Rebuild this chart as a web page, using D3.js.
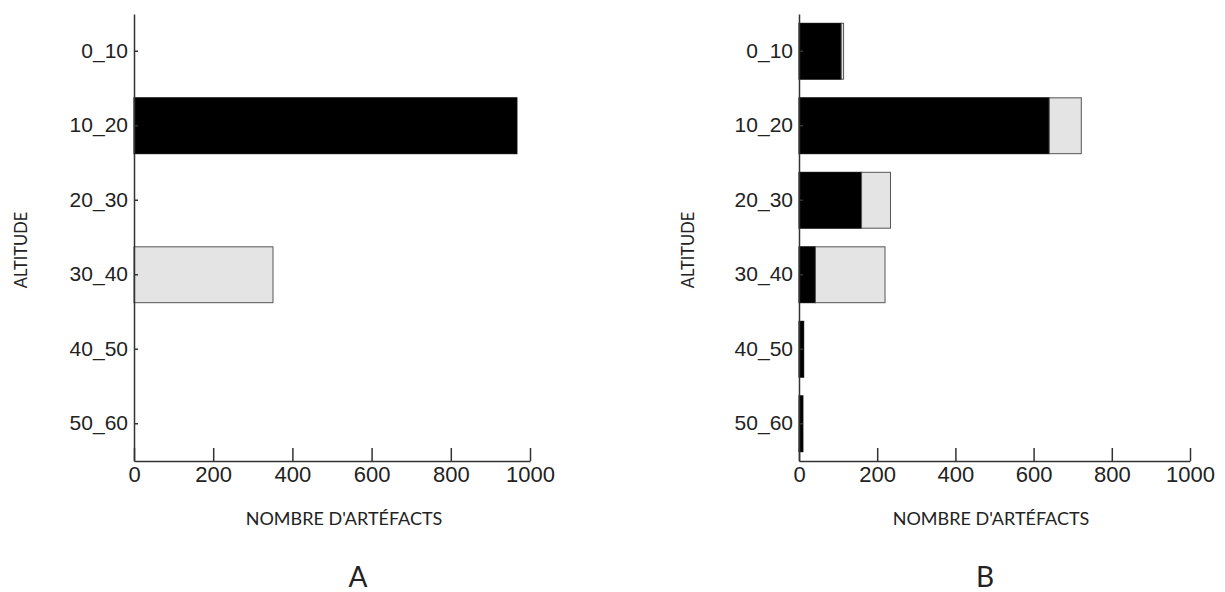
<!DOCTYPE html>
<html>
<head>
<meta charset="utf-8">
<script src="https://cdn.jsdelivr.net/npm/d3@7"></script>
<style>
    body { margin: 0; background: #fff; }
    svg { display: block; font-family: Lato, "Open Sans", sans-serif; }
</style>
</head>
<body>
<svg width="1225" height="592"></svg>
<script>
const width = 1225;
const height = 592;

// altitude classes (top to bottom)
const altitudes = ["0_10", "10_20", "20_30", "30_40", "40_50", "50_60"];
const xTicks = [0, 200, 400, 600, 800, 1000];
const seriesKeys = ["dark", "light"];

// panel A
const darkA = [0, 967, 0, 0, 0, 0];
const lightA = [0, 0, 0, 351, 0, 0];
// panel B
const darkB = [108, 640, 160, 42, 12, 10];
const lightB = [6, 82, 74, 178, 0, 0];

const panels = [
    { name: "A", dark: darkA, light: lightA, x0: 134, x1: 530, titleX: 344, letterX: 358, yTitleX: 21 },
    { name: "B", dark: darkB, light: lightB, x0: 799, x1: 1190, titleX: 991, letterX: 985, yTitleX: 688 },
];

const plotTop = 14;
const plotBottom = 461;

const fill = { dark: "#000", light: "#e4e4e4" };
const stroke = { dark: "#000", light: "#555" };

const svg = d3.select("svg");

const y = d3.scaleBand()
    .domain(altitudes)
    .range([plotTop, plotBottom])
    .paddingInner(0.25)
    .paddingOuter(0.125);

const render = (p) => {
    const rows = altitudes.map((a, i) => ({ alt: a, dark: p.dark[i], light: p.light[i] }));
    const stacked = d3.stack().keys(seriesKeys)(rows);

    const x = d3.scaleLinear().domain([0, 1000]).range([p.x0, p.x1]);

    const g = svg.append("g").attr("id", "panel-" + p.name);

    g.append("g")
        .selectAll("g")
        .data(stacked)
        .join("g")
        .attr("fill", (d) => fill[d.key])
        .attr("stroke", (d) => stroke[d.key])
        .attr("stroke-width", 1)
        .selectAll("rect")
        .data((d) => d.filter((v) => v[1] - v[0] > 0))
        .join("rect")
        .attr("x", (d) => x(d[0]))
        .attr("y", (d) => y(d.data.alt))
        .attr("width", (d) => x(d[1]) - x(d[0]))
        .attr("height", y.bandwidth());

    // y axis
    g.append("g")
        .attr("transform", `translate(${p.x0}, 0)`)
        .call(d3.axisLeft(y).tickSizeInner(-4).tickSizeOuter(0).tickPadding(6))
        .call((a) => a.select(".domain").attr("stroke", "#333").attr("stroke-width", 1.5))
        .call((a) => a.selectAll(".tick line").attr("stroke", "#333").attr("stroke-width", 1.5))
        .call((a) => a.selectAll(".tick text").attr("font-size", 21).attr("fill", "#222"));

    // x axis
    g.append("g")
        .attr("transform", `translate(0, ${plotBottom})`)
        .call(d3.axisBottom(x).tickValues(xTicks).tickFormat(d3.format("d"))
            .tickSizeInner(-13).tickSizeOuter(0).tickPadding(5))
        .call((a) => a.select(".domain").attr("stroke", "#333").attr("stroke-width", 1.5))
        .call((a) => a.selectAll(".tick line").attr("stroke", "#333").attr("stroke-width", 1.5))
        .call((a) => a.selectAll(".tick text").attr("font-size", 22).attr("fill", "#222"));

    g.append("text")
        .attr("x", p.titleX)
        .attr("y", 525)
        .attr("text-anchor", "middle")
        .attr("font-size", 18)
        .attr("fill", "#222")
        .text("NOMBRE D'ARTÉFACTS");

    g.append("text")
        .attr("transform", `translate(${p.yTitleX}, 250) rotate(-90)`)
        .attr("text-anchor", "middle")
        .attr("dominant-baseline", "central")
        .attr("font-size", 16.5)
        .attr("fill", "#222")
        .text("ALTITUDE");

    g.append("text")
        .attr("x", p.letterX)
        .attr("y", 587)
        .attr("text-anchor", "middle")
        .attr("font-size", 28)
        .attr("fill", "#222")
        .text(p.name);
};

panels.forEach(render);
</script>
</body>
</html>
